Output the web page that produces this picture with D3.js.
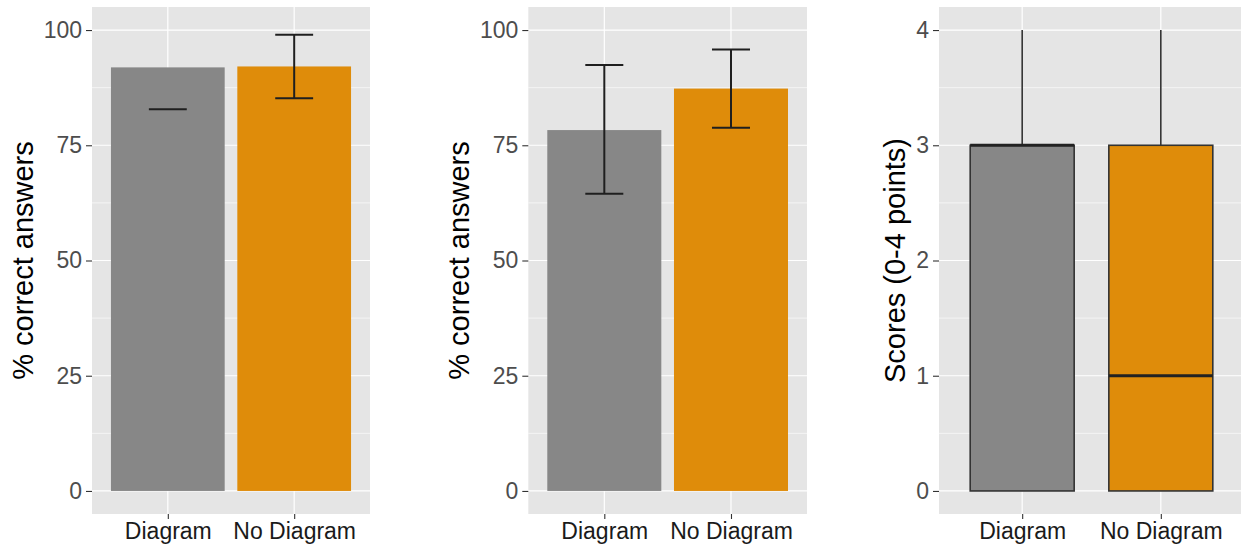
<!DOCTYPE html>
<html>
<head>
<meta charset="utf-8">
<script src="https://cdn.jsdelivr.net/npm/d3@7"></script>
<style>
  html, body { margin: 0; padding: 0; background: #ffffff; }
  svg { display: block; font-family: "Liberation Sans", Arial, Helvetica, sans-serif; }
</style>
</head>
<body>
<svg id="chart" width="1241" height="547"></svg>
<script>
// Conditions shown on every panel
const categories = ["Diagram", "No Diagram"];
const fillColors = ["#878787", "#DF8C0A"];

// Panel 1: mean % correct with error bars (upper bound missing for Diagram)
const pct1Mean = [91.9, 92.1];
const pct1Low = [82.8, 85.2];
const pct1High = [null, 99.0];

// Panel 2: mean % correct with error bars
const pct2Mean = [78.3, 87.3];
const pct2Low = [64.5, 78.8];
const pct2High = [92.4, 95.8];

// Panel 3: score distributions (0-4 points) as box plot statistics
const scoreMin = [0, 0];
const scoreQ1 = [0, 0];
const scoreMedian = [3, 1];
const scoreQ3 = [3, 3];
const scoreMax = [4, 4];

// Tick values
const pctTicks = [0, 25, 50, 75, 100];
const pctMinor = [12.5, 37.5, 62.5, 87.5];
const scoreTicks = [0, 1, 2, 3, 4];
const scoreMinor = [0.5, 1.5, 2.5, 3.5];

const svg = d3.select("#chart");
const panelTop = 7, panelBottom = 514;

function panel(opts) {
  const g = svg.append("g");
  const x = d3.scalePoint().domain(categories).range([opts.left, opts.right]).padding(0.6);
  const y = d3.scaleLinear().domain(opts.domain).range([panelBottom, panelTop]);

  // panel background
  g.append("rect")
    .attr("x", opts.left).attr("y", panelTop)
    .attr("width", opts.right - opts.left).attr("height", panelBottom - panelTop)
    .attr("fill", "#E5E5E5");

  // minor grid
  g.selectAll(".minor").data(opts.minor).join("line")
    .attr("x1", opts.left).attr("x2", opts.right)
    .attr("y1", d => y(d)).attr("y2", d => y(d))
    .attr("stroke", "#ffffff").attr("stroke-width", 0.6);
  // major grid
  g.selectAll(".major").data(opts.ticks).join("line")
    .attr("x1", opts.left).attr("x2", opts.right)
    .attr("y1", d => y(d)).attr("y2", d => y(d))
    .attr("stroke", "#ffffff").attr("stroke-width", 1.2);
  g.selectAll(".vmajor").data(categories).join("line")
    .attr("x1", d => x(d)).attr("x2", d => x(d))
    .attr("y1", panelTop).attr("y2", panelBottom)
    .attr("stroke", "#ffffff").attr("stroke-width", 1.2);

  // axes
  const ya = g.append("g").attr("transform", `translate(${opts.left},0)`)
    .call(d3.axisLeft(y).tickValues(opts.ticks).tickSize(6).tickPadding(4).tickFormat(d3.format("d")));
  ya.select(".domain").remove();
  ya.selectAll("line").attr("stroke", "#333333").attr("stroke-width", 1.1);
  ya.selectAll("text").attr("fill", "#4D4D4D").style("font-size", "23px");

  const xa = g.append("g").attr("transform", `translate(0,${panelBottom})`)
    .call(d3.axisBottom(x).tickSize(5).tickPadding(4));
  xa.select(".domain").remove();
  xa.selectAll("line").attr("stroke", "#333333").attr("stroke-width", 1.1);
  xa.selectAll("text").attr("fill", "#1A1A1A").style("font-size", "23px");

  // axis title
  g.append("text")
    .attr("transform", `translate(${opts.titleX},${(panelTop + panelBottom) / 2}) rotate(-90)`)
    .attr("text-anchor", "middle")
    .attr("fill", "#000000")
    .style("font-size", "29px")
    .text(opts.title);

  return { g, x, y };
}

function barPanel(opts, mean, low, high) {
  const { g, x, y } = panel(opts);
  const bw = x.step() * 0.9;
  const cw = x.step() * 0.3;
  g.selectAll(".bar").data(categories).join("rect")
    .attr("x", d => x(d) - bw / 2)
    .attr("width", bw)
    .attr("y", (d, i) => y(mean[i]))
    .attr("height", (d, i) => y(0) - y(mean[i]))
    .attr("fill", (d, i) => fillColors[i]);

  categories.forEach((c, i) => {
    const cx = x(c);
    const line = (x1, y1, x2, y2) => g.append("line")
      .attr("x1", x1).attr("y1", y1).attr("x2", x2).attr("y2", y2)
      .attr("stroke", "#1F1F1F").attr("stroke-width", 2);
    if (low[i] != null) line(cx - cw / 2, y(low[i]), cx + cw / 2, y(low[i]));
    if (high[i] != null) line(cx - cw / 2, y(high[i]), cx + cw / 2, y(high[i]));
    if (low[i] != null && high[i] != null) line(cx, y(low[i]), cx, y(high[i]));
  });
}

barPanel({ left: 92, right: 370, domain: [-5, 105], ticks: pctTicks, minor: pctMinor,
           titleX: 33, title: "% correct answers" }, pct1Mean, pct1Low, pct1High);

barPanel({ left: 528.3, right: 807, domain: [-5, 105], ticks: pctTicks, minor: pctMinor,
           titleX: 469, title: "% correct answers" }, pct2Mean, pct2Low, pct2High);

// Box plot panel
(function () {
  const { g, x, y } = panel({ left: 939, right: 1244, domain: [-0.2, 4.2], ticks: scoreTicks,
    minor: scoreMinor, titleX: 905, title: "Scores (0-4 points)" });
  const bw = x.step() * 0.75;
  categories.forEach((c, i) => {
    const cx = x(c);
    // whiskers
    g.append("line").attr("x1", cx).attr("x2", cx)
      .attr("y1", y(scoreQ3[i])).attr("y2", y(scoreMax[i]))
      .attr("stroke", "#333333").attr("stroke-width", 1.6);
    g.append("line").attr("x1", cx).attr("x2", cx)
      .attr("y1", y(scoreQ1[i])).attr("y2", y(scoreMin[i]))
      .attr("stroke", "#333333").attr("stroke-width", 1.6);
    // box
    g.append("rect")
      .attr("x", cx - bw / 2).attr("width", bw)
      .attr("y", y(scoreQ3[i])).attr("height", y(scoreQ1[i]) - y(scoreQ3[i]))
      .attr("fill", fillColors[i])
      .attr("stroke", "#333333").attr("stroke-width", 1.6);
    // median
    g.append("line")
      .attr("x1", cx - bw / 2).attr("x2", cx + bw / 2)
      .attr("y1", y(scoreMedian[i])).attr("y2", y(scoreMedian[i]))
      .attr("stroke", "#222222").attr("stroke-width", 3.2);
  });
})();
</script>
</body>
</html>
